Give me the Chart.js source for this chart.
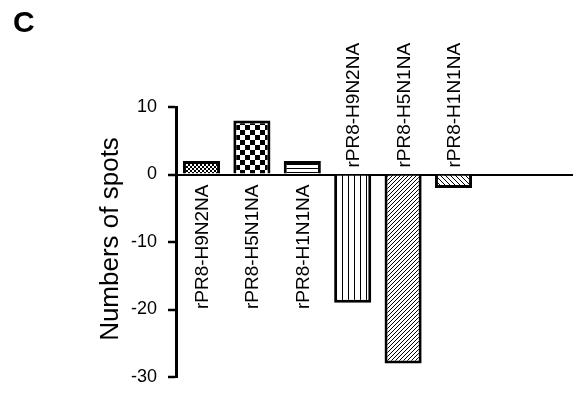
<!DOCTYPE html>
<html>
<head>
<meta charset="utf-8">
<script src="https://cdn.jsdelivr.net/npm/chart.js@4"></script>
<style>
  html, body { margin: 0; padding: 0; background: #fff; overflow: hidden; }
  canvas { display: block; }
</style>
</head>
<body>
<canvas id="myChart" width="573" height="393"></canvas>
<script>
const categories = ['rPR8-H9N2NA', 'rPR8-H5N1NA', 'rPR8-H1N1NA', 'rPR8-H9N2NA', 'rPR8-H5N1NA', 'rPR8-H1N1NA'];
const spotValues = [2, 8, 2, -19, -28, -2];
const yTickValues = [10, 0, -10, -20, -30];
const yTitle = 'Numbers of spots';
const panelLetter = 'C';

const FONT = "'Liberation Sans', Arial, sans-serif";

// small canvas tiles used as bar fills
function makePattern(size, draw) {
  const c = document.createElement('canvas');
  c.width = size;
  c.height = size;
  const g = c.getContext('2d');
  g.fillStyle = '#fff';
  g.fillRect(0, 0, size, size);
  g.fillStyle = '#000';
  g.strokeStyle = '#000';
  draw(g, size);
  return g.createPattern(c, 'repeat');
}

const fineChecker = makePattern(4, (g) => {
  g.fillRect(0, 0, 2, 2);
  g.fillRect(2, 2, 2, 2);
});
const bigChecker = makePattern(10, (g) => {
  g.fillRect(0, 0, 5, 5);
  g.fillRect(5, 5, 5, 5);
});
const hLines = makePattern(4, (g) => {
  g.fillRect(0, 0, 4, 1);
});
const vLines = makePattern(6, (g) => {
  g.fillRect(0, 0, 1, 6);
});
function diag(size, forward) {
  return makePattern(size, (g, n) => {
    g.lineWidth = 1;
    g.beginPath();
    if (forward) {
      g.moveTo(-1, n + 1); g.lineTo(n + 1, -1);
      g.moveTo(-1, 1); g.lineTo(1, -1);
      g.moveTo(n - 1, n + 1); g.lineTo(n + 1, n - 1);
    } else {
      g.moveTo(-1, -1); g.lineTo(n + 1, n + 1);
      g.moveTo(n - 1, -1); g.lineTo(n + 1, 1);
      g.moveTo(-1, n - 1); g.lineTo(1, n + 1);
    }
    g.stroke();
  });
}
const fills = [fineChecker, bigChecker, hLines, vLines, diag(4, true), diag(5, false)];

const labelPlugin = {
  id: 'labels',
  afterDraw(chart) {
    const ctx = chart.ctx;
    const x = chart.scales.x;
    const y = chart.scales.y;
    const zero = y.getPixelForValue(0);
    ctx.save();
    ctx.fillStyle = '#000';

    // panel letter
    ctx.font = 'bold 30px ' + FONT;
    ctx.textAlign = 'left';
    ctx.textBaseline = 'alphabetic';
    ctx.fillText(panelLetter, 13, 32);

    // y axis title
    ctx.save();
    ctx.translate(118, 239);
    ctx.rotate(-Math.PI / 2);
    ctx.font = '26px ' + FONT;
    ctx.textAlign = 'center';
    ctx.fillText(yTitle, 0, 0);
    ctx.restore();

    // category labels, on the opposite side of the zero line
    ctx.font = '19px ' + FONT;
    categories.forEach((name, i) => {
      const cx = x.getPixelForValue(i) + 6.5;
      ctx.save();
      if (spotValues[i] >= 0) {
        ctx.translate(cx, zero + 10);
        ctx.rotate(-Math.PI / 2);
        ctx.textAlign = 'right';
      } else {
        ctx.translate(cx, zero - 7);
        ctx.rotate(-Math.PI / 2);
        ctx.textAlign = 'left';
      }
      ctx.fillText(name, 0, 0);
      ctx.restore();
    });
    ctx.restore();
  }
};

const ctx = document.getElementById('myChart').getContext('2d');
const myChart = new Chart(ctx, {
  type: 'bar',
  data: {
    datasets: [
      {
        data: spotValues.map((v, i) => ({ x: i, y: v })),
        backgroundColor: fills,
        borderColor: '#000',
        borderWidth: 3,
        borderSkipped: 'start',
        barPercentage: 0.92,
        categoryPercentage: 0.8,
      },
    ],
  },
  options: {
    responsive: false,
    animation: false,
    devicePixelRatio: 1,
    layout: { padding: { top: 107, bottom: 16, left: 0, right: 0 } },
    plugins: {
      legend: { display: false },
      tooltip: { enabled: false },
    },
    scales: {
      x: {
        type: 'linear',
        display: false,
        offset: false,
        min: -0.506,
        max: 7.371,
      },
      y: {
        min: -30,
        max: 10,
        afterFit(scale) {
          scale.width = 176;
          scale.paddingTop = 0;
          scale.paddingBottom = 0;
        },
        afterBuildTicks(scale) { scale.ticks = yTickValues.map(v => ({ value: v })); },
        ticks: {
          color: '#000',
          font: { family: FONT, size: 18 },
          padding: 11,
        },
        grid: {
          color: (c) => (c.tick && c.tick.value === 0 ? '#000' : 'rgba(0,0,0,0)'),
          lineWidth: 2,
          tickColor: '#000',
          tickLength: 8,
          tickWidth: 2.5,
        },
        border: { display: true, color: '#000', width: 3 },
      },
    },
  },
  plugins: [labelPlugin],
});
</script>
</body>
</html>
